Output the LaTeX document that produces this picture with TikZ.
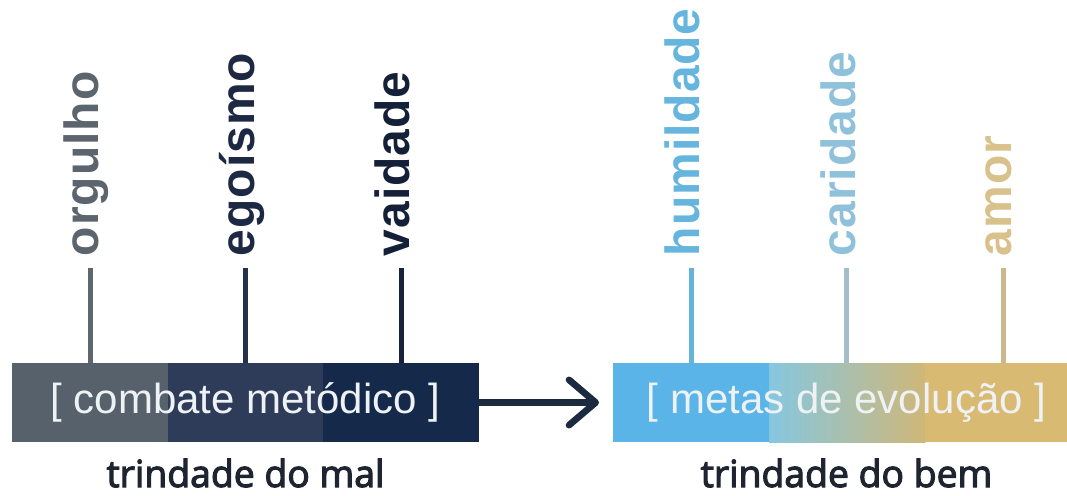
\documentclass[tikz,border=0pt]{standalone}
\usepackage{fontspec}
\setmainfont{Liberation Sans}
\newfontfamily\lblfont{Liberation Sans}[LetterSpace=2]
\newfontfamily\capfont{Open Sans}[FakeBold=3]
\usepackage{tikz}
\usetikzlibrary{arrows.meta}
\usepackage{xcolor}

\definecolor{malA}{HTML}{56616B}
\definecolor{malB}{HTML}{2E3C59}
\definecolor{malC}{HTML}{15294B}
\definecolor{bemA}{HTML}{5AB4E7}
\definecolor{bemBa}{HTML}{86C7E0}
\definecolor{bemBb}{HTML}{CFB778}
\definecolor{bemC}{HTML}{D9BA72}
\definecolor{orgulhoC}{HTML}{5C656E}
\definecolor{egoismoC}{HTML}{1D2842}
\definecolor{vaidadeC}{HTML}{142037}
\definecolor{humildadeC}{HTML}{66B5DF}
\definecolor{caridadeC}{HTML}{90C1DB}
\definecolor{amorC}{HTML}{D8C18B}
\definecolor{orgulhoT}{HTML}{5E666E}
\definecolor{egoismoT}{HTML}{27324A}
\definecolor{vaidadeT}{HTML}{17233A}
\definecolor{humildadeT}{HTML}{66B3DA}
\definecolor{caridadeT}{HTML}{A3BEC6}
\definecolor{amorT}{HTML}{CBB98D}
\definecolor{arrowC}{HTML}{1B2A3E}
\definecolor{ink}{HTML}{1E2530}
\definecolor{barwhite}{HTML}{EEF2F4}

\tikzset{
  lbl/.style={rotate=90, anchor=mid west, inner sep=0pt, outer sep=9pt, font=\lblfont\bfseries\fontsize{36pt}{40pt}\selectfont},
  stalk/.style={line width=3.75pt},
  bar/.style={minimum width=350.25pt, minimum height=59.25pt, inner sep=0pt, outer sep=0pt, text=barwhite, font=\fontsize{31.5pt}{35pt}\selectfont},
  caption/.style={anchor=base, inner sep=0pt, text=ink, font=\capfont\fontsize{28pt}{32pt}\selectfont},
  pointer/.style={draw=arrowC, line width=5pt, -{Straight Barb[length=20pt,width=34pt,round]}, shorten >=10.5pt}
}

\begin{document}
\begin{tikzpicture}[x=0.75pt,y=0.75pt,yscale=-1,xscale=1]
\clip (0,0) rectangle (1067,496);

%Shape: Rectangle - trindade do mal
\fill [malA] (12,363) rectangle (168.2,442);
\fill [malB] (167.7,363) rectangle (323.8,442);
\fill [malC] (323.3,363) rectangle (479,442);
%Shape: Rectangle - trindade do bem
\fill [bemA] (613,363) rectangle (769.5,442);
\shade [left color=bemBa, right color=bemBb] (769,363) rectangle (925.5,442);
\fill [bemC] (925,363) rectangle (1080,442);

% Text Node
\node (mal) [bar] at (245.5,402.5) {[ combate metódico ]};
% Text Node
\node (bem) [bar] at (846.5,402.5) {[ metas de evolução ]};

% Text Node
\node (orgulho) [lbl, text=orgulhoC] at (95,268) {orgulho};
% Text Node
\node (egoismo) [lbl, text=egoismoC] at (250.5,268) {egoísmo};
% Text Node
\node (vaidade) [lbl, text=vaidadeC] at (406,268) {vaidade};
% Text Node
\node (humildade) [lbl, text=humildadeC] at (696,268) {humildade};
% Text Node
\node (caridade) [lbl, text=caridadeC] at (851.5,268) {caridade};
% Text Node
\node (amor) [lbl, text=amorC] at (1008,268) {amor};

%Straight Lines
\draw [stalk, orgulhoT] ([xshift=-3.75pt]orgulho.mid west) -- ([xshift=-3.75pt]orgulho.mid west |- mal.north);
\draw [stalk, egoismoT] ([xshift=-3.75pt]egoismo.mid west) -- ([xshift=-3.75pt]egoismo.mid west |- mal.north);
\draw [stalk, vaidadeT] ([xshift=-3.75pt]vaidade.mid west) -- ([xshift=-3.75pt]vaidade.mid west |- mal.north);
\draw [stalk, humildadeT] ([xshift=-3.75pt]humildade.mid west) -- ([xshift=-3.75pt]humildade.mid west |- bem.north);
\draw [stalk, caridadeT] ([xshift=-3.75pt]caridade.mid west) -- ([xshift=-3.75pt]caridade.mid west |- bem.north);
\draw [stalk, amorT] ([xshift=-3.75pt]amor.mid west) -- ([xshift=-3.75pt]amor.mid west |- bem.north);

%Straight Lines - arrow
\draw [pointer] (mal.east) -- (bem.west);

% Text Node
\node (trimal) [caption] at (245.5,487) {trindade do mal};
% Text Node
\node (tribem) [caption] at (846.5,487) {trindade do bem};
\end{tikzpicture}
\end{document}
